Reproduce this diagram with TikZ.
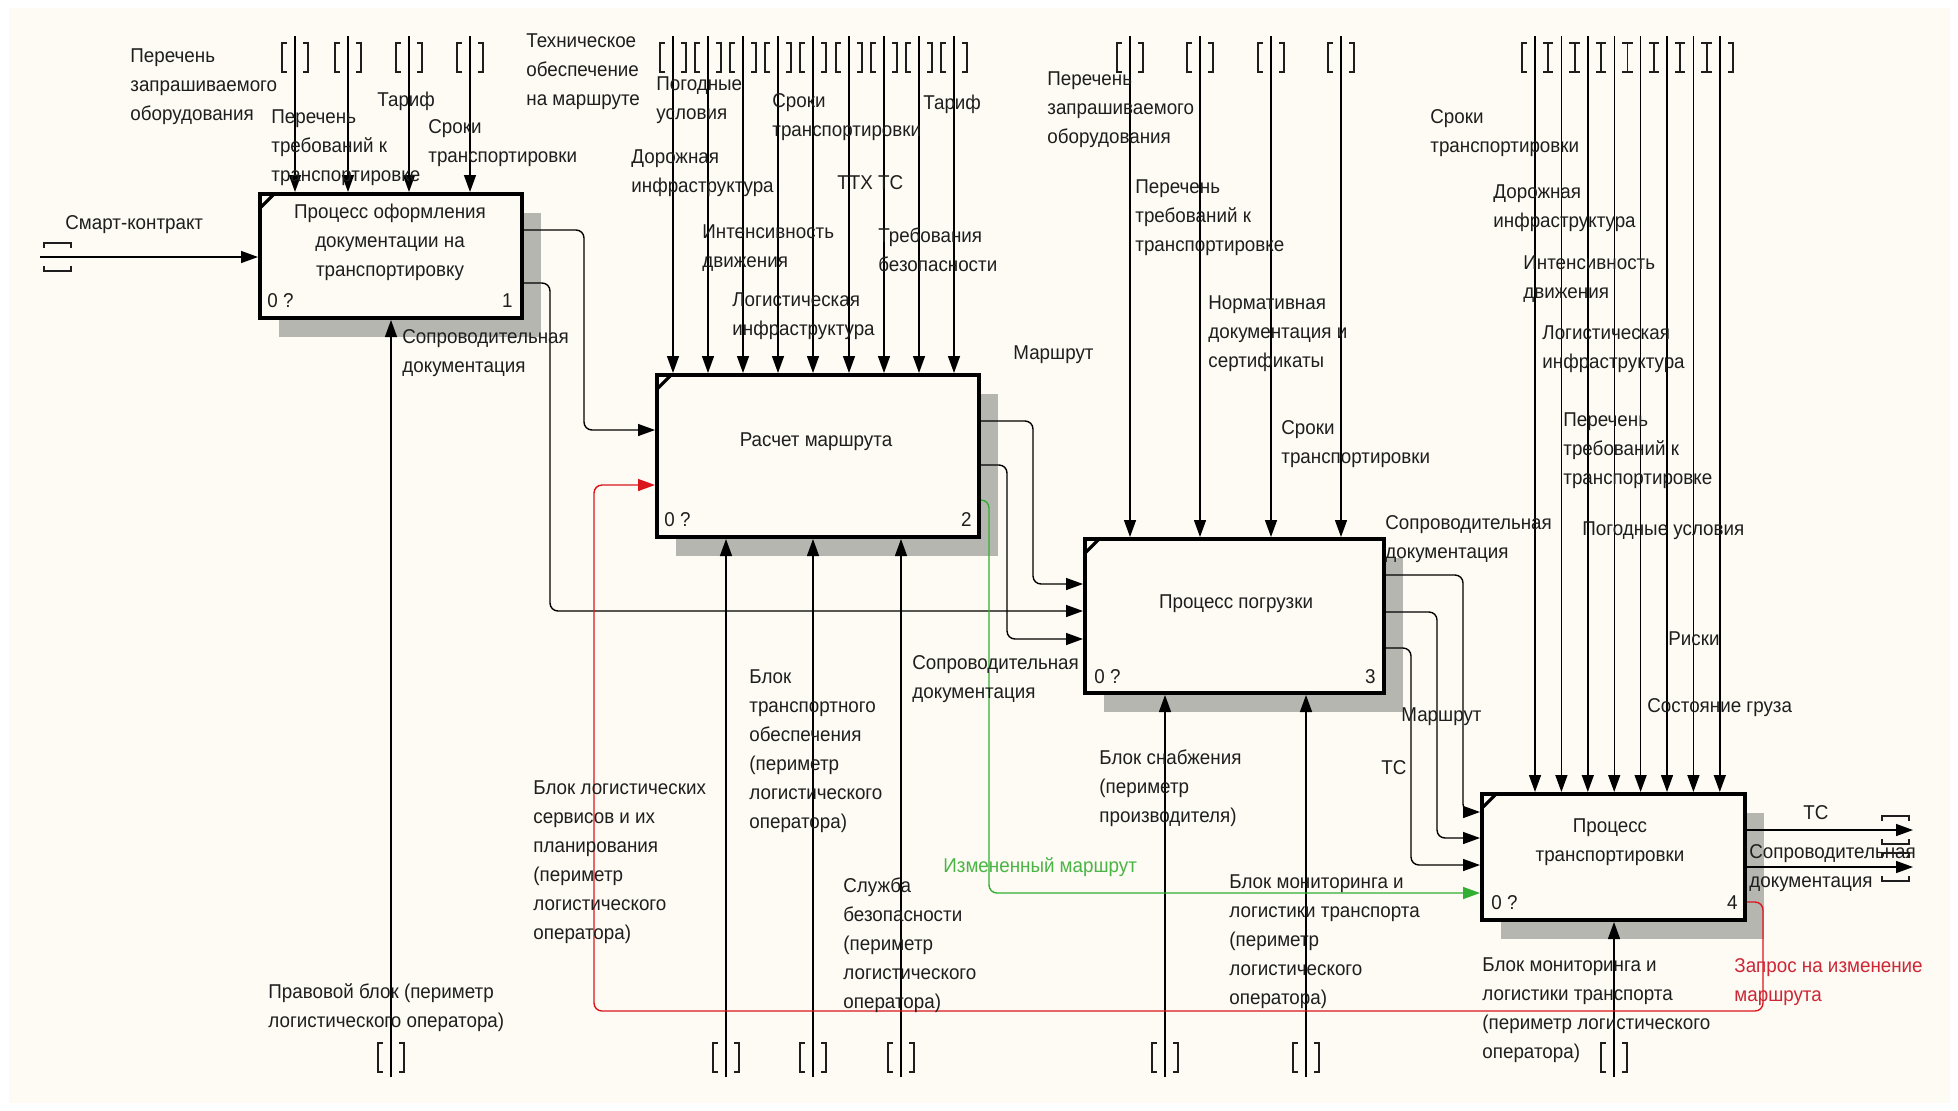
\documentclass[tikz,border=0pt]{standalone}
\usepackage{fontspec}
\setmainfont{Liberation Sans}[FakeStretch=0.94]
\usetikzlibrary{arrows.meta,calc,shadows}
\definecolor{paper}{RGB}{253,251,243}
\definecolor{ink}{RGB}{30,30,30}
\definecolor{redln}{RGB}{218,22,28}
\definecolor{redtx}{RGB}{205,38,55}
\definecolor{grnln}{RGB}{50,175,50}
\definecolor{grntx}{RGB}{75,180,70}
\definecolor{shade}{RGB}{182,182,177}

\tikzset{
  x=0.5pt, y=-0.5pt,
  lbl/.style={font=\fontsize{10}{14.5}\selectfont, text=ink, align=left,
    anchor=north west, inner sep=0pt, execute at begin node=\strut},
  ml/.style={lbl, yshift=-3pt},
  ttl/.style={lbl, align=center, anchor=north},
  box/.style={draw=black, line width=2pt, fill=paper, rectangle, inner sep=0pt,
    drop shadow={shadow xshift=9.5pt, shadow yshift=-9.5pt, fill=shade, opacity=1}},
  tick/.style={line width=1.6pt},
  arr/.style={draw=black, line width=0.7pt, rounded corners=4pt,
    -{Triangle[length=8.5pt, width=6pt]}},
  redarr/.style={arr, draw=redln, -{Triangle[length=8.5pt, width=6pt, fill=redln]}},
  grnarr/.style={arr, draw=grnln, -{Triangle[length=8.5pt, width=6pt, fill=grnln]}},
  tun/.style={draw=ink, line width=0.7pt},
}

% tunnel brackets around a vertical arrow end: x, top y
\newcommand\tunv[2]{%
  \draw[tun] ({#1-8},#2) -- ({#1-13},#2) -- ({#1-13},{#2+29}) -- ({#1-8},{#2+29});
  \draw[tun] ({#1+8},#2) -- ({#1+13},#2) -- ({#1+13},{#2+29}) -- ({#1+8},{#2+29});}
% tunnel brackets around a horizontal arrow end: left x, line y
\newcommand\tunh[2]{%
  \draw[tun] (#1,{#2-9}) -- (#1,{#2-14}) -- ({#1+27},{#2-14}) -- ({#1+27},{#2-9});
  \draw[tun] (#1,{#2+9}) -- (#1,{#2+14}) -- ({#1+27},{#2+14}) -- ({#1+27},{#2+9});}

\begin{document}
\begin{tikzpicture}
\fill[white] (0,0) rectangle (1958,1110);
\fill[paper] (9,8) rectangle (1950,1103);
\useasboundingbox (0,0) rectangle (1958,1110);

% activity boxes
\node[box, minimum width=131pt, minimum height=62pt] (b1) at (391,256) {};
\node[box, minimum width=161pt, minimum height=81pt] (b2) at (818,456) {};
\node[box, minimum width=149.5pt, minimum height=77pt] (b3) at (1234.5,616) {};
\node[box, minimum width=131.5pt, minimum height=63pt] (b4) at (1613.5,857) {};
\foreach \b in {b1,b2,b3,b4}
  \draw[tick] ($(\b.north west)+(1,17)$) -- ($(\b.north west)+(17,1)$);

% controls of box 1
\foreach \x [count=\i] in {295,348,409,470} {
  \coordinate (ta\i) at (\x,36);
  \tunv{\x}{43}
  \draw[arr] (ta\i) -- (ta\i |- b1.north);
}
% controls of box 2
\foreach \x [count=\i] in {673,708,743,778,813,849,884,919,954} {
  \coordinate (tb\i) at (\x,36);
  \tunv{\x}{43}
  \draw[arr] (tb\i) -- (tb\i |- b2.north);
}
% controls of box 3
\foreach \x [count=\i] in {1130,1200,1271,1341} {
  \coordinate (tc\i) at (\x,36);
  \tunv{\x}{43}
  \draw[arr] (tc\i) -- (tc\i |- b3.north);
}
% controls of box 4
\foreach \x [count=\i] in {1535,1561.4,1587.8,1614.2,1640.6,1667,1693.4,1719.8} {
  \coordinate (td\i) at (\x,36);
  \tunv{\x}{43}
  \draw[arr] (td\i) -- (td\i |- b4.north);
}

% mechanisms
\foreach \x/\b [count=\i] in {391/b1,726/b2,813/b2,901/b2,1165/b3,1306/b3,1614/b4} {
  \coordinate (m\i) at (\x,1077);
  \tunv{\x}{1043}
  \draw[arr] (m\i) -- (m\i |- \b.south);
}

% input of box 1
\coordinate (sc) at (40,257);
\tunh{44}{257}
\draw[arr] (sc) -- (sc -| b1.west);

% box 1 outputs
\draw[arr] (b1.east |- 0,230) -- (584,230) -- (584,430) -- (b2.west |- 0,430);
\draw[arr] (b1.east |- 0,283) -- (550,283) -- (550,611) -- (b3.west |- 0,611);
% box 2 outputs
\draw[arr] (b2.east |- 0,421) -- (1033,421) -- (1033,584) -- (b3.west |- 0,584);
\draw[arr] (b2.east |- 0,465) -- (1007,465) -- (1007,639) -- (b3.west |- 0,639);
\draw[grnarr] (b2.east |- 0,500) -- (989,500) -- (989,893) -- (b4.west |- 0,893);
% box 3 outputs
\draw[arr] (b3.east |- 0,575) -- (1463,575) -- (1463,812) -- (b4.west |- 0,812);
\draw[arr] (b3.east |- 0,612) -- (1437,612) -- (1437,838) -- (b4.west |- 0,838);
\draw[arr] (b3.east |- 0,648) -- (1411,648) -- (1411,865) -- (b4.west |- 0,865);
% box 4 outputs
\coordinate (o1) at (1913,830);
\coordinate (o2) at (1913,867);
\tunh{1882}{830}
\tunh{1882}{867}
\draw[arr] (b4.east |- o1) -- (o1);
\draw[arr] (b4.east |- o2) -- (o2);
% feedback from box 4 to box 2
\draw[redarr] (b4.east |- 0,902) -- (1763,902) -- (1763,1011) -- (594,1011) -- (594,485) -- (b2.west |- 0,485);

% box titles and numbers
\node[ttl, yshift=-3.5pt] (n1) at (390,197) {Процесс оформления\\документации на\\транспортировку};
\node[ttl] (n2) at (816,426) {Расчет маршрута};
\node[ttl] (n3) at (1236,588) {Процесс погрузки};
\node[ttl, yshift=-2.5pt] (n4) at (1610,813) {Процесс\\транспортировки};
\node[lbl] (z1) at (267,287) {0 ?};
\node[lbl, anchor=north east] (k1) at (513,287) {1};
\node[lbl] (z2) at (664,506) {0 ?};
\node[lbl, anchor=north east] (k2) at (972,506) {2};
\node[lbl] (z3) at (1094,663) {0 ?};
\node[lbl, anchor=north east] (k3) at (1376,663) {3};
\node[lbl] (z4) at (1491,889) {0 ?};
\node[lbl, anchor=north east] (k4) at (1738,889) {4};

% labels around box 1
\node[ml] (l1) at (130,42) {Перечень\\запрашиваемого\\оборудования};
\node[ml] (l2) at (271,103) {Перечень\\требований к\\транспортировке};
\node[lbl] (l3) at (377,86) {Тариф};
\node[ml] (l4) at (428,113) {Сроки\\транспортировки};
\node[ml] (l5) at (526,27) {Техническое\\обеспечение\\на маршруте};
\node[lbl] (l6) at (65,209) {Смарт-контракт};
\node[ml] (l7) at (402,323) {Сопроводительная\\документация};

% labels around box 2
\node[ml] (l8) at (656,70) {Погодные\\условия};
\node[ml] (l9) at (631,143) {Дорожная\\инфраструктура};
\node[ml] (l10) at (772,87) {Сроки\\транспортировки};
\node[lbl] (l11) at (923,89) {Тариф};
\node[lbl] (l12) at (837,169) {ТТХ ТС};
\node[ml] (l13) at (702,218) {Интенсивность\\движения};
\node[ml] (l14) at (878,221) {Требования\\безопасности};
\node[ml] (l15) at (732,286) {Логистическая\\инфраструктура};
\node[lbl] (l16) at (1013,339) {Маршрут};

% labels around box 3
\node[ml] (l17) at (1047,65) {Перечень\\запрашиваемого\\оборудования};
\node[ml] (l18) at (1135,173) {Перечень\\требований к\\транспортировке};
\node[ml] (l19) at (1208,289) {Нормативная\\документация и\\сертификаты};
\node[ml] (l20) at (1281,414) {Сроки\\транспортировки};
\node[ml] (l21) at (1385,509) {Сопроводительная\\документация};
\node[lbl] (l22) at (1401,701) {Маршрут};
\node[lbl] (l23) at (1381,754) {ТС};

% labels around box 4
\node[ml] (l24) at (1430,103) {Сроки\\транспортировки};
\node[ml] (l25) at (1493,178) {Дорожная\\инфраструктура};
\node[ml] (l26) at (1523,249) {Интенсивность\\движения};
\node[ml] (l27) at (1542,319) {Логистическая\\инфраструктура};
\node[ml] (l28) at (1563,406) {Перечень\\требований к\\транспортировке};
\node[lbl] (l29) at (1582,515) {Погодные условия};
\node[lbl] (l30) at (1668,625) {Риски};
\node[lbl] (l31) at (1647,692) {Состояние груза};
\node[lbl] (l32) at (1803,799) {ТС};
\node[ml] (l33) at (1749,838) {Сопроводительная\\документация};
\node[ml, text=redtx] (l34) at (1734,952) {Запрос на изменение\\маршрута};

% mechanism labels
\node[ml] (l35) at (268,977) {Правовой блок (периметр\\логистического оператора)};
\node[ml] (l36) at (533,774) {Блок логистических\\сервисов и их\\планирования\\(периметр\\логистического\\оператора)};
\node[ml] (l37) at (749,663) {Блок\\транспортного\\обеспечения\\(периметр\\логистического\\оператора)};
\node[ml] (l38) at (843,871) {Служба\\безопасности\\(периметр\\логистического\\оператора)};
\node[ml] (l39) at (912,649) {Сопроводительная\\документация};
\node[lbl, text=grntx] (l40) at (943,852) {Измененный маршрут};
\node[ml] (l41) at (1099,743) {Блок снабжения\\(периметр\\производителя)};
\node[ml] (l42) at (1229,868) {Блок мониторинга и\\логистики транспорта\\(периметр\\логистического\\оператора)};
\node[ml] (l43) at (1482,951) {Блок мониторинга и\\логистики транспорта\\(периметр логистического\\оператора)};
\end{tikzpicture}
\end{document}
